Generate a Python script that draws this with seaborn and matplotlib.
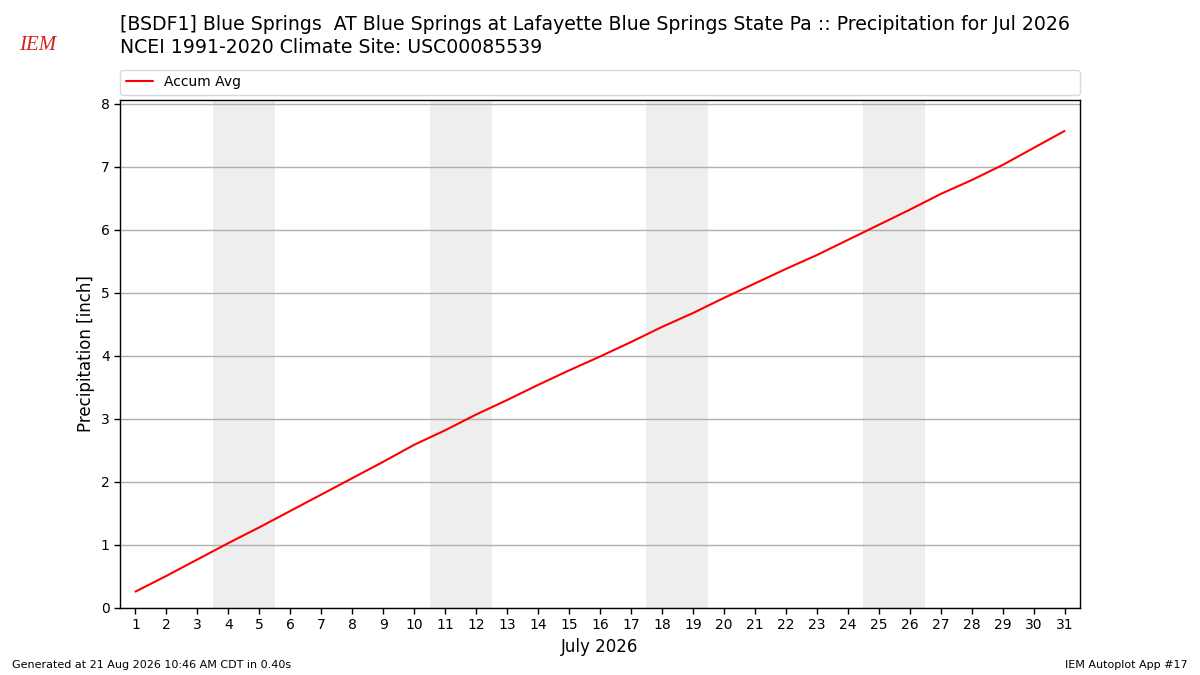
import numpy as np
import pandas as pd
import matplotlib
matplotlib.use("Agg")
import matplotlib.pyplot as plt
import seaborn as sns

# Climatology accumulated precipitation, July (inches)
days = list(range(1, 32))
accum_avg = [0.26, 0.51, 0.77, 1.03, 1.28, 1.54, 1.80, 2.06, 2.32, 2.59,
             2.82, 3.07, 3.30, 3.54, 3.77, 3.99, 4.22, 4.46, 4.68, 4.92,
             5.15, 5.38, 5.60, 5.84, 6.08, 6.32, 6.57, 6.79, 7.03, 7.30, 7.57]
weekend_starts = [4, 11, 18, 25]

title_lines = [
    "[BSDF1] Blue Springs  AT Blue Springs at Lafayette Blue Springs State Pa :: Precipitation for Jul 2026",
    "NCEI 1991-2020 Climate Site: USC00085539",
]
footer_left = "Generated at 21 Aug 2026 10:46 AM CDT in 0.40s"
footer_right = "IEM Autoplot App #17"

sns.set_theme(style="white")
plt.rcParams["font.family"] = ["DejaVu Sans"]
plt.rcParams["text.color"] = "black"
plt.rcParams["axes.labelcolor"] = "black"

df = pd.DataFrame({"day": days, "accum": accum_avg})

fig = plt.figure(figsize=(12, 6.75), dpi=100)
ax = fig.add_axes([0.1, 0.0993, 0.8, 0.7526])

for start in weekend_starts:
    ax.axvspan(start - 0.5, start + 1.5, color="#eeeeee", zorder=0, lw=0)

sns.lineplot(data=df, x="day", y="accum", color="red", lw=1.5,
             label="Accum Avg", ax=ax, zorder=3)

ax.set_xlim(0.5, 31.5)
ax.set_ylim(0, max(accum_avg) * 1.065)
ax.set_xticks(days)
ax.set_xticklabels([str(d) for d in days])
ax.set_yticks(range(0, 9))
ax.grid(axis="y", color="#b0b0b0", lw=1)
ax.grid(axis="x", visible=False)
ax.tick_params(axis="both", labelsize=10, length=4, width=1, color="black",
               bottom=True, left=True, colors="black")
for s in ax.spines.values():
    s.set_color("black")
    s.set_linewidth(1)
ax.set_xlabel("July 2026", fontsize=12)
ax.set_ylabel("Precipitation [inch]", fontsize=12)

leg = ax.legend(loc="lower left", bbox_to_anchor=(0, 1.01, 1, 0.1), mode="expand",
                ncol=1, fontsize=10, frameon=True, edgecolor="#d0d0d0",
                borderaxespad=0, handlelength=2)
for t in leg.get_texts():
    t.set_color("black")

fig.text(0.1, 0.963, title_lines[0], fontsize=13.6, va="center", ha="left")
fig.text(0.1, 0.929, title_lines[1], fontsize=13.6, va="center", ha="left")

# simple logo stand-in
fig.text(0.031, 0.933, "IEM", fontsize=15, color="#cc2222", family="Liberation Serif",
         style="italic", ha="center", va="center")

fig.text(0.01, 0.015, footer_left, fontsize=8, ha="left", va="center")
fig.text(0.99, 0.015, footer_right, fontsize=8, ha="right", va="center")

fig.savefig("out.png", dpi=100)
